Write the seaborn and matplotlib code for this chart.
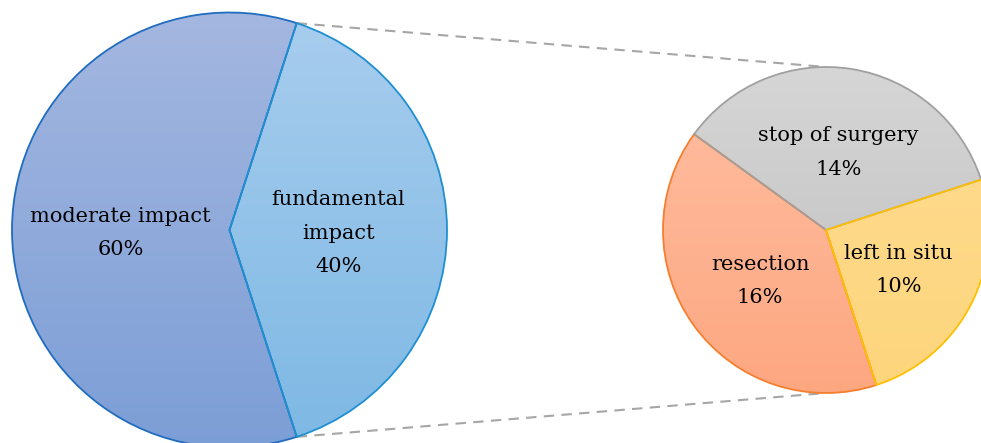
import numpy as np
import matplotlib
matplotlib.use("Agg")
import matplotlib.pyplot as plt
import matplotlib.transforms as mtransforms
import seaborn as sns

# ---- data ----
main_labels = ["fundamental\nimpact", "moderate impact"]
main_values = [40, 60]
sub_labels = ["left in situ", "stop of surgery", "resection"]
sub_values = [10, 14, 16]

# ---- styles ----
main_top = ["#A8CDEE", "#A4B7E0"]
main_bot = ["#7DB8E4", "#7C9ED6"]
main_edge = ["#1E8FD0", "#1F6CC0"]
main_z = [4, 3]
sub_top = ["#FFDC92", "#D6D6D6", "#FFBFA2"]
sub_bot = ["#FDD57C", "#BDBDBD", "#FDA781"]
sub_edge = ["#FFC000", "#A0A0A0", "#F57F2E"]
sub_z = [4, 3.5, 3]

sns.set_theme(style="white")
plt.rcParams["font.family"] = ["DejaVu Serif"]

W, H = 981, 443
fig = plt.figure(figsize=(W / 100, H / 100), dpi=100)
ax = fig.add_axes([0, 0, 1, 1])

main_c, main_r = (229.5, H - 230.0), 217.5
sub_c, sub_r = (826.0, H - 230.0), 163.0
start = -72


def fmt_factory(labels, values):
    it = iter(range(len(labels)))
    def f(pct):
        i = next(it)
        return f"{labels[i]}\n{values[i]}%"
    return f


def draw_pie(values, labels, center, radius, tops, bots, edges, zs):
    wedges, texts, autotexts = ax.pie(
        values, center=center, radius=radius, startangle=start,
        counterclock=True, autopct=fmt_factory(labels, values),
        pctdistance=0.5, frame=True,
        wedgeprops=dict(linewidth=1.3),
        textprops=dict(fontsize=15, color="black", linespacing=1.95),
    )
    for w, t, b, e, z in zip(wedges, tops, bots, edges, zs):
        w.set_facecolor("none")
        w.set_edgecolor(e)
        w.set_zorder(z)
        c1 = np.array(matplotlib.colors.to_rgb(t))
        c2 = np.array(matplotlib.colors.to_rgb(b))
        s = np.linspace(0, 1, 256)[:, None]
        grad = (c1 * (1 - s) + c2 * s)[:, None, :]
        im = ax.imshow(grad, extent=[center[0] - radius, center[0] + radius,
                                     center[1] - radius, center[1] + radius],
                       origin="upper", aspect="auto", interpolation="bilinear",
                       zorder=1)
        im.set_clip_path(w)
    shift = mtransforms.ScaledTranslation(0, -0.03, fig.dpi_scale_trans)
    for a in autotexts:
        a.set_zorder(6)
        a.set_ha("center")
        a.set_va("center")
        a.set_transform(a.get_transform() + shift)
    return wedges


draw_pie(main_values, main_labels, main_c, main_r, main_top, main_bot, main_edge, main_z)
draw_pie(sub_values, sub_labels, sub_c, sub_r, sub_top, sub_bot, sub_edge, sub_z)

# connector lines from the split edges of main pie to top/bottom of sub pie
half = np.deg2rad(360 * main_values[0] / sum(main_values) / 2)
for sgn in (1, -1):
    x0 = main_c[0] + main_r * np.cos(sgn * half)
    y0 = main_c[1] + main_r * np.sin(sgn * half)
    x1 = sub_c[0]
    y1 = sub_c[1] + sgn * sub_r
    ax.plot([x0, x1], [y0, y1], color="#A6A6A6", lw=1.5,
            linestyle=(0, (5, 3.5)), zorder=0)

ax.set_xlim(0, W)
ax.set_ylim(0, H)
ax.set_aspect("equal")
ax.axis("off")

fig.savefig("out.png", dpi=100)
